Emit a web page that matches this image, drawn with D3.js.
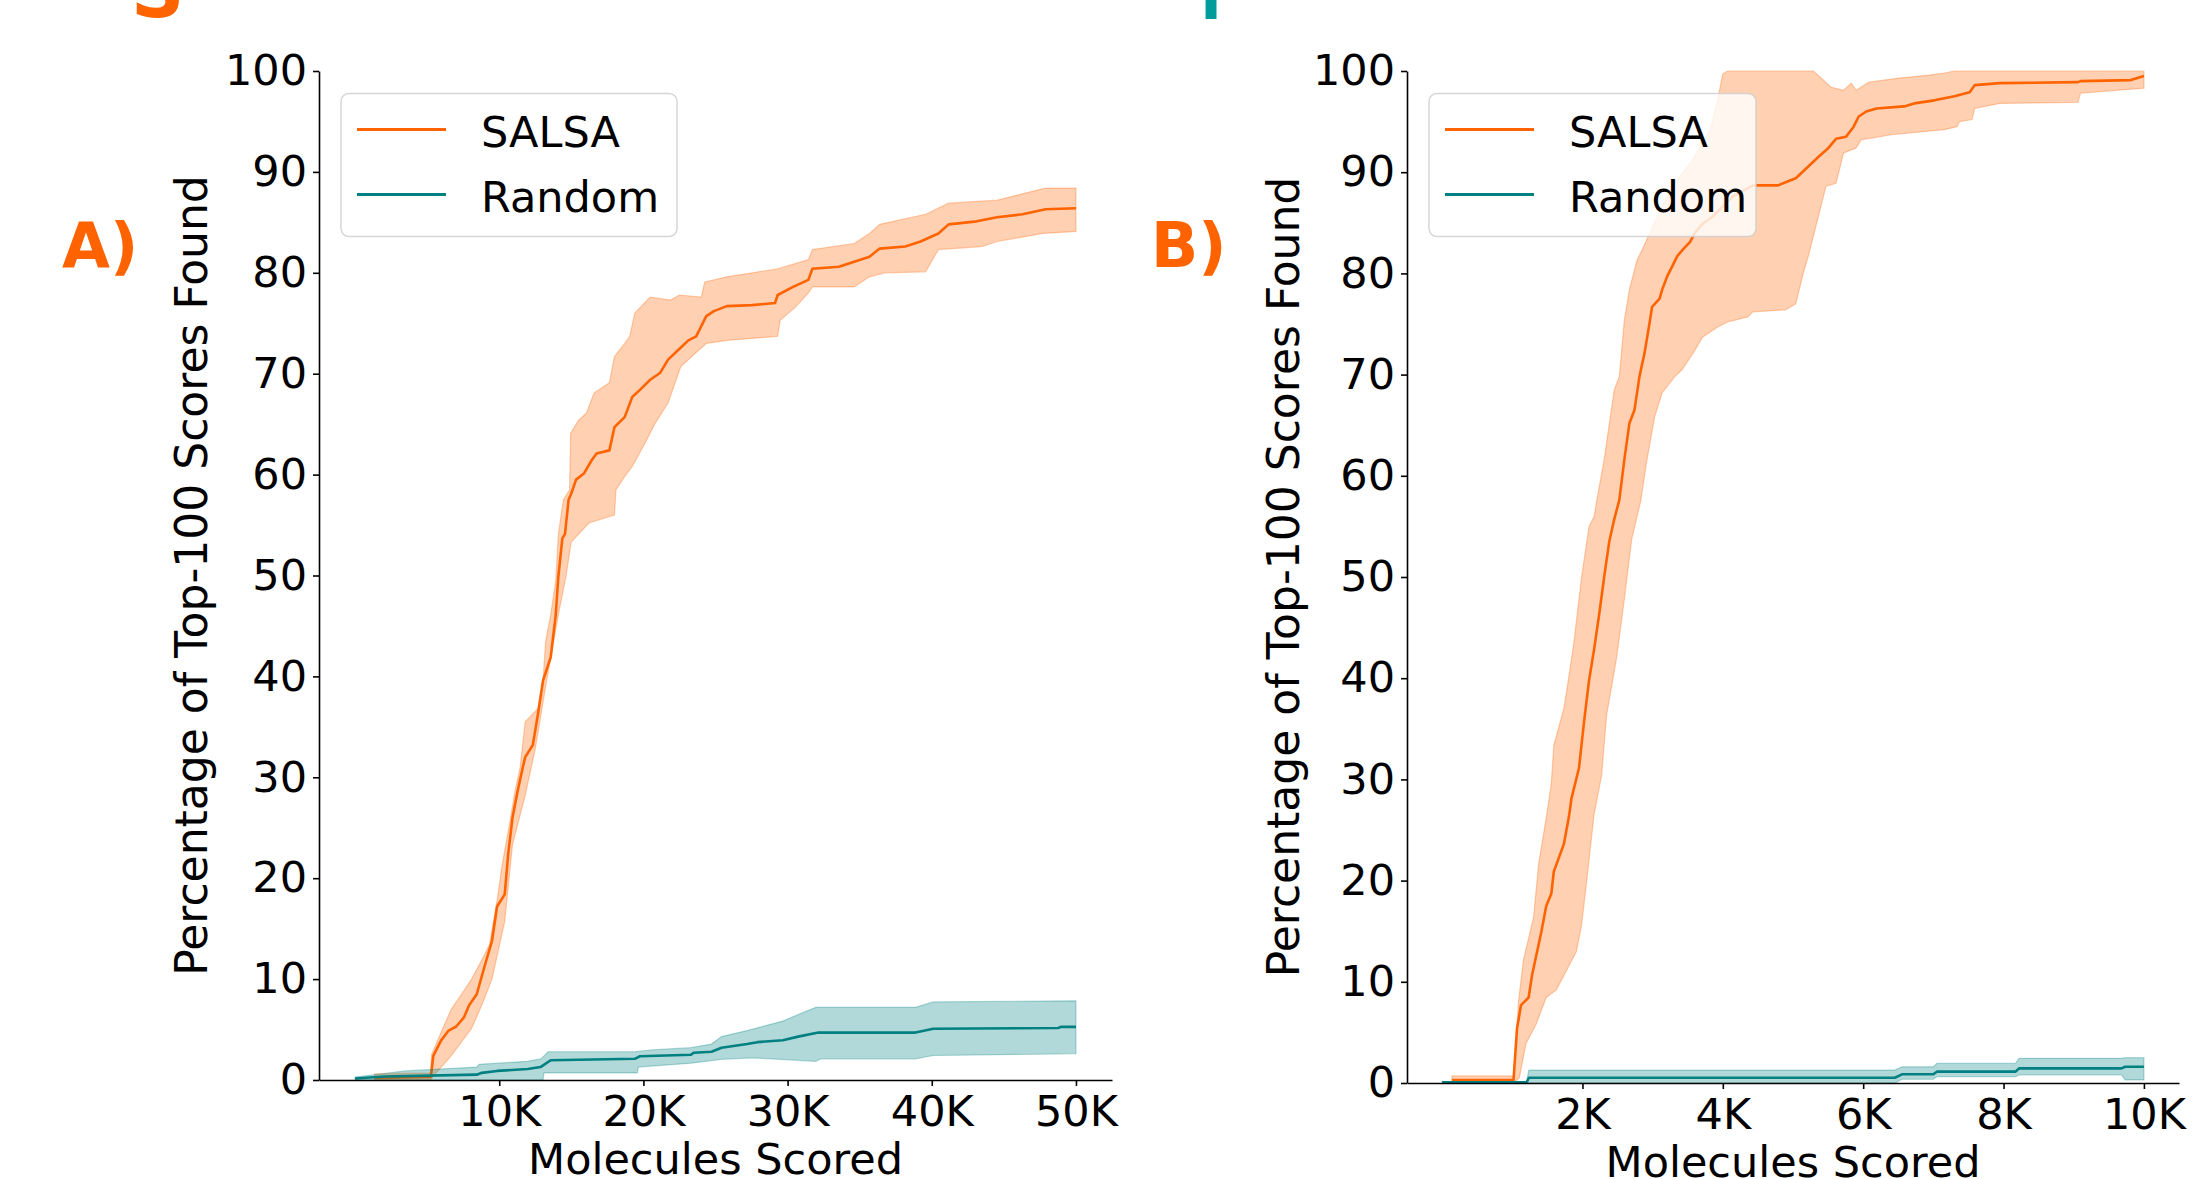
<!DOCTYPE html>
<html>
<head>
<meta charset="utf-8">
<script src="https://cdn.jsdelivr.net/npm/d3@7"></script>
<style>
  html, body { margin: 0; padding: 0; background: #fff; }
  svg { display: block; font-family: 'DejaVu Sans', sans-serif; }
</style>
</head>
<body>
<svg id="chart" width="2193" height="1179"></svg>
<script>
/* global d3 */

// shared axis values
var yTicks = [0, 10, 20, 30, 40, 50, 60, 70, 80, 90, 100];
var aXTicks = [10000, 20000, 30000, 40000, 50000];
var aXTickLabels = ['10K', '20K', '30K', '40K', '50K'];
var bXTicks = [2000, 4000, 6000, 8000, 10000];
var bXTickLabels = ['2K', '4K', '6K', '8K', '10K'];
var seriesNames = ['SALSA', 'Random'];

// panel A, 50K molecules: [molecules scored, % of top-100 found]
var aSalsaMean = [[1350, 0.2], [5250, 0.3], [5430, 2.4], [5960, 3.9], [6490, 4.9], [7020, 5.3], [7550, 6.2], [7910, 7.4], [8440, 8.5], [8970, 11.2], [9500, 13.8], [9850, 17.2], [10380, 18.4], [10630, 22.5], [10920, 26], [11270, 28.6], [11620, 30.9], [11800, 32], [12330, 33.2], [12680, 36.2], [13040, 39.6], [13570, 41.9], [13920, 46.1], [14100, 49.9], [14380, 53.7], [14560, 54.1], [14810, 57.5], [14990, 58.1], [15330, 59.5], [15870, 60.1], [16400, 61.4], [16750, 62.1], [17640, 62.4], [17990, 64.7], [18700, 65.7], [19230, 67.7], [19760, 68.4], [20470, 69.4], [21170, 70.1], [21710, 71.4], [22230, 72.1], [23120, 73.3], [23660, 73.7], [24360, 75.7], [24890, 76.2], [25780, 76.7], [27550, 76.8], [29130, 77.0], [29310, 77.8], [30380, 78.6], [31440, 79.3], [31720, 80.4], [33560, 80.6], [34620, 81.1], [35680, 81.6], [36390, 82.4], [38160, 82.6], [39220, 83.1], [40460, 83.9], [41170, 84.8], [43120, 85.1], [44530, 85.5], [46300, 85.8], [47890, 86.3], [50000, 86.4]];
var aSalsaUpper = [[1350, 0.6], [5250, 0.7], [5300, 2.5], [5960, 4.7], [6670, 7.0], [7380, 8.5], [8080, 10.0], [8790, 11.9], [9320, 13.4], [9850, 17.8], [10210, 21.4], [10740, 25.6], [11090, 28.6], [11440, 30.9], [11800, 35.5], [12680, 36.8], [13040, 39.6], [13210, 43.4], [13570, 46.1], [13920, 49.5], [14100, 54.1], [14450, 57.5], [14880, 58.5], [14950, 64.1], [15510, 65.4], [16050, 66.1], [16580, 68.1], [17640, 69.1], [17990, 71.7], [18700, 73.0], [19050, 73.7], [19400, 76.0], [19930, 76.8], [20470, 77.6], [21880, 77.3], [22500, 77.8], [24010, 77.6], [24250, 79.1], [25780, 79.6], [27550, 80.0], [29310, 80.4], [31440, 81.3], [31720, 82.3], [34620, 82.9], [35680, 83.9], [36390, 84.8], [39570, 85.8], [41170, 86.9], [44530, 87.2], [45940, 87.7], [47890, 88.4], [50000, 88.4]];
var aSalsaLower = [[1350, 0], [5250, 0], [5500, 0.5], [6670, 2.4], [8080, 5.1], [8790, 7.4], [9500, 10.0], [10380, 15.7], [10920, 23.3], [11800, 28.2], [12500, 32.8], [13210, 38.9], [14100, 46.1], [14630, 49.9], [14990, 53.3], [16220, 55.2], [17990, 56.0], [18100, 58.5], [18700, 59.8], [19230, 60.8], [20110, 63.1], [20820, 65.1], [21710, 67.1], [22590, 70.7], [23660, 72.1], [24360, 73.0], [25780, 73.3], [29310, 73.7], [29490, 75.3], [30550, 76.6], [31440, 78.0], [31720, 78.6], [34620, 78.6], [35680, 79.6], [36740, 80.0], [39570, 80.1], [40460, 82.3], [43470, 82.6], [44530, 83.1], [47710, 83.9], [50000, 84.1]];
var aRandomMean = [[0, 0.15], [2070, 0.34], [8440, 0.53], [8790, 0.71], [9850, 0.9], [11980, 1.09], [12860, 1.28], [13570, 1.96], [19400, 2.1], [19760, 2.35], [23300, 2.5], [23480, 2.7], [24720, 2.8], [25420, 3.2], [27190, 3.56], [27900, 3.75], [29670, 3.94], [30730, 4.3], [32140, 4.7], [38870, 4.7], [40100, 5.08], [48770, 5.15], [48950, 5.27], [50000, 5.27]];
var aRandomUpper = [[0, 0.3], [3480, 0.9], [8440, 1.28], [8610, 1.55], [11980, 1.85], [12900, 2.1], [13390, 2.8], [19400, 2.8], [20650, 3.0], [23300, 3.2], [24720, 3.56], [25420, 4.3], [27190, 4.9], [29670, 5.84], [31260, 6.8], [31960, 7.2], [38870, 7.2], [40100, 7.74], [50000, 7.85]];
var aRandomLower = [[0, 0], [13040, 0], [13100, 0.7], [19580, 0.7], [19650, 1.28], [23300, 1.67], [25420, 2.05], [27550, 2.2], [31960, 1.85], [32320, 2.1], [38870, 2.1], [40100, 2.43], [50000, 2.6]];

// panel B, 10K molecules
var bSalsaMean = [[140, 0.3], [1018, 0.3], [1068, 5.4], [1125, 7.7], [1233, 8.45], [1283, 10.7], [1413, 14.9], [1484, 17.5], [1556, 18.7], [1592, 20.9], [1735, 23.6], [1807, 26.3], [1843, 28.1], [1950, 31.1], [2023, 35.7], [2094, 39.8], [2167, 42.9], [2238, 46.3], [2309, 50.0], [2382, 53.5], [2453, 55.7], [2525, 57.6], [2597, 61.6], [2669, 65.2], [2741, 66.5], [2812, 69.8], [2884, 72.1], [2956, 75.1], [2992, 76.7], [3099, 77.5], [3136, 78.4], [3207, 79.7], [3279, 80.7], [3351, 81.7], [3423, 82.3], [3531, 83.1], [3602, 84.0], [3711, 84.9], [3853, 85.6], [3997, 86.6], [4141, 87.6], [4356, 88.4], [4428, 88.7], [4787, 88.7], [4931, 89.1], [5039, 89.4], [5146, 90.1], [5361, 91.5], [5505, 92.4], [5613, 93.3], [5756, 93.5], [5864, 94.5], [5936, 95.5], [6044, 96.0], [6188, 96.3], [6583, 96.5], [6727, 96.8], [7014, 97.1], [7301, 97.5], [7517, 97.9], [7588, 98.6], [7947, 98.8], [9060, 98.9], [9096, 99.0], [9815, 99.1], [10000, 99.5]];
var bSalsaUpper = [[140, 0.7], [1018, 0.7], [1060, 5], [1089, 8.1], [1160, 12.2], [1304, 16.4], [1376, 21.7], [1484, 26.2], [1556, 29.6], [1592, 33.4], [1735, 37.0], [1807, 40.2], [1879, 43.6], [1987, 50.0], [2094, 55.0], [2167, 56.0], [2202, 57.5], [2309, 61.6], [2453, 68.5], [2525, 69.8], [2597, 75.4], [2669, 78.4], [2777, 81.3], [2848, 82.3], [3063, 85.6], [3279, 88.6], [3567, 91.2], [3818, 94.2], [3926, 97.1], [3997, 99.7], [4069, 100], [5290, 100], [5434, 99.1], [5541, 98.4], [5721, 98.1], [5829, 98.8], [5900, 98.1], [6079, 98.9], [6510, 99.3], [6942, 99.6], [7157, 99.8], [7300, 100], [10000, 100]];
var bSalsaLower = [[140, 0], [1018, 0], [1100, 0.5], [1196, 3.9], [1340, 5.8], [1484, 8.45], [1628, 9.2], [1771, 11.1], [1914, 13.0], [1987, 15.6], [2058, 19.8], [2167, 26.6], [2273, 30.4], [2345, 36.4], [2489, 42.1], [2597, 47.8], [2704, 53.8], [2830, 57.5], [2920, 61.6], [3028, 65.8], [3136, 68.2], [3316, 69.8], [3423, 70.5], [3602, 72.4], [3711, 73.7], [3926, 74.7], [4069, 75.2], [4356, 75.7], [4428, 76.2], [4895, 76.4], [5039, 77.0], [5146, 80.0], [5218, 81.7], [5361, 85.6], [5470, 88.6], [5613, 88.9], [5721, 91.9], [5900, 92.4], [5971, 93.2], [6403, 93.7], [7157, 94.2], [7337, 94.5], [7374, 95.0], [7552, 95.2], [7588, 96.3], [7947, 96.8], [9060, 96.9], [9096, 97.8], [10000, 98.3]];
var bRandomMean = [[0, 0.07], [1206, 0.07], [1236, 0.52], [6452, 0.52], [6552, 0.86], [7000, 0.86], [7050, 1.12], [8171, 1.12], [8221, 1.45], [9682, 1.45], [9732, 1.61], [10000, 1.61]];
var bRandomUpper = [[0, 0.15], [1206, 0.15], [1236, 1.28], [6452, 1.28], [6552, 1.6], [7000, 1.6], [7050, 1.95], [8171, 1.95], [8221, 2.44], [9682, 2.44], [9732, 2.5], [10000, 2.5]];
var bRandomLower = [[0, 0], [6452, 0], [6552, 0.37], [7000, 0.37], [7050, 0.63], [8171, 0.63], [8221, 0.79], [9682, 0.79], [9732, 0.3], [10000, 0.3]];

var ORANGE = '#ff6300';
var TEAL = '#008080';
var FONT = 43;

var svg = d3.select('#chart');

function drawPanel(p) {
  var x = d3.scaleLinear().domain(p.xDomain).range(p.xRange);
  var y = d3.scaleLinear().domain([0, 100]).range(p.yRange);
  var g = svg.append('g').attr('class', 'panel-' + p.id);

  svg.append('clipPath').attr('id', 'clip-' + p.id)
    .append('rect')
    .attr('x', p.xRange[0]).attr('y', p.yRange[1] - 1)
    .attr('width', p.xRange[1] - p.xRange[0])
    .attr('height', p.yRange[0] - p.yRange[1] + 1);

  var line = d3.line().x(d => x(d[0])).y(d => y(d[1]));
  var plot = g.append('g').attr('clip-path', `url(#clip-${p.id})`);

  p.series.forEach(s => {
    // fill_between: upper edge then the lower edge back
    plot.append('path')
      .attr('d', line(s.upper.concat(s.lower.slice().reverse())) + 'Z')
      .attr('fill', s.color).attr('fill-opacity', 0.3)
      .attr('stroke', s.color).attr('stroke-opacity', 0.3).attr('stroke-width', 1.2);
    plot.append('path')
      .attr('d', line(s.mean))
      .attr('fill', 'none')
      .attr('stroke', s.color).attr('stroke-width', 2.6)
      .attr('stroke-linejoin', 'round');
  });

  var xAxis = g.append('g')
    .attr('transform', `translate(0,${p.yRange[0]})`)
    .call(d3.axisBottom(x).tickValues(p.xTicks).tickFormat((d, i) => p.xTickLabels[i])
      .tickSize(6).tickPadding(9).tickSizeOuter(0));
  var yAxis = g.append('g')
    .attr('transform', `translate(${p.xRange[0]},0)`)
    .call(d3.axisLeft(y).tickValues(yTicks).tickSize(6).tickPadding(6).tickSizeOuter(0));

  [xAxis, yAxis].forEach(a => {
    a.attr('font-family', null).attr('font-size', FONT);
    a.select('.domain').attr('stroke', '#000').attr('stroke-width', 1.6);
    a.selectAll('.tick line').attr('stroke', '#000').attr('stroke-width', 1.6);
    a.selectAll('.tick text').attr('fill', '#000');
  });

  g.append('text')
    .attr('x', (p.xRange[0] + p.xRange[1]) / 2).attr('y', p.xLabelY)
    .attr('text-anchor', 'middle').attr('font-size', FONT)
    .text('Molecules Scored');

  g.append('text')
    .attr('transform', `translate(${p.yLabelX},${(p.yRange[0] + p.yRange[1]) / 2}) rotate(-90)`)
    .attr('text-anchor', 'middle').attr('font-size', 44)
    .text('Percentage of Top-100 Scores Found');

  // legend
  var lg = g.append('g').attr('transform', `translate(${p.legend[0]},${p.legend[1]})`);
  lg.append('rect')
    .attr('width', p.legend[2]).attr('height', 143).attr('rx', 8)
    .attr('fill', '#fff').attr('fill-opacity', 0.8)
    .attr('stroke', '#cccccc').attr('stroke-opacity', 0.8).attr('stroke-width', 1.5);
  lg.selectAll('g.entry')
    .data(p.series).enter()
    .append('g').attr('class', 'entry')
    .attr('transform', (d, i) => `translate(0,${36 + i * 65})`)
    .each(function(d, i) {
      var e = d3.select(this);
      e.append('line').attr('x1', 16).attr('x2', 105)
        .attr('stroke', d.color).attr('stroke-width', 3);
      e.append('text').attr('x', 140).attr('y', 17)
        .attr('font-size', FONT).text(seriesNames[i]);
    });

  g.append('text')
    .attr('x', p.tag[0]).attr('y', p.tag[1])
    .attr('font-size', 62).attr('font-weight', 'bold').attr('fill', ORANGE)
    .text(p.id + ')');
}

drawPanel({
  id: 'A',
  xDomain: [-2500, 52500], xRange: [319, 1112], yRange: [1080, 71],
  xTicks: aXTicks, xTickLabels: aXTickLabels,
  xLabelY: 1174, yLabelX: 207,
  legend: [341, 93.5, 336], tag: [62, 267],
  series: [
    { color: ORANGE, mean: aSalsaMean, upper: aSalsaUpper, lower: aSalsaLower },
    { color: TEAL, mean: aRandomMean, upper: aRandomUpper, lower: aRandomLower }
  ]
});

drawPanel({
  id: 'B',
  xDomain: [-500, 10500], xRange: [1407, 2179], yRange: [1083, 71],
  xTicks: bXTicks, xTickLabels: bXTickLabels,
  xLabelY: 1177, yLabelX: 1299,
  legend: [1429, 93.5, 327], tag: [1151, 267],
  series: [
    { color: ORANGE, mean: bSalsaMean, upper: bSalsaUpper, lower: bSalsaLower },
    { color: TEAL, mean: bRandomMean, upper: bRandomUpper, lower: bRandomLower }
  ]
});

// bits of the figure above, cut off at the top edge
svg.append('text').attr('x', 131).attr('y', 17)
  .attr('font-size', 74).attr('font-weight', 'bold').attr('fill', ORANGE).text('S');
svg.append('text').attr('x', 1211).attr('y', 19).attr('text-anchor', 'middle')
  .attr('font-size', 58).attr('font-weight', 'bold').attr('fill', '#009b9b').text('I');
</script>
</body>
</html>
